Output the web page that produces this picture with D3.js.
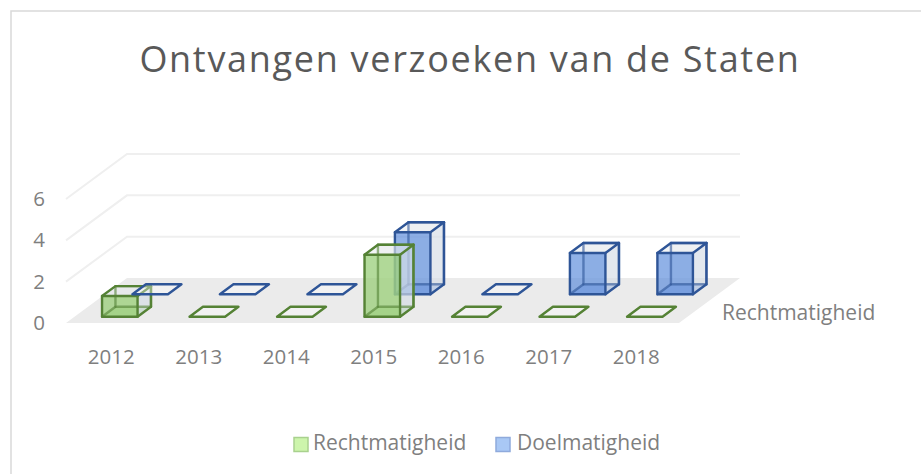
<!DOCTYPE html>
<html><head><meta charset="utf-8">
<script src="https://cdn.jsdelivr.net/npm/d3@7"></script>
<style>html,body{margin:0;background:#fff}svg{display:block}text{font-family:"Open Sans",sans-serif}</style>
</head><body><svg id="c" width="921" height="474"></svg>
<script>
const categories=["2012","2013","2014","2015","2016","2017","2018"];
const rechtmatigheid=[1,0,0,3,0,0,0];
const doelmatigheid=[0,0,0,3,0,2,2];
const yTicks=[0,2,4,6];
const seriesNames=["Rechtmatigheid","Doelmatigheid"];
const titleText="Ontvangen verzoeken van de Staten";
const depthLabel="Rechtmatigheid";

const svg=d3.select("#c");
svg.append("defs").append("filter").attr("id","soft").append("feGaussianBlur").attr("stdDeviation",0.35);
const ox=66,oy=323,dxD=61,dyD=45,W=613;
const x=d3.scaleBand().domain(categories).range([27.5,588]).paddingInner(0.594).paddingOuter(0);
const y=d3.scaleLinear().domain([0,6]).range([0,124]);
const P=(px,d,v)=>[ox+px+d*dxD, oy-d*dyD-y(v)];
const line=d3.line();

svg.append("path").attr("d","M11,474V11H921").attr("fill","none").attr("stroke","#d9d9d9").attr("stroke-width",1.5);

svg.append("text").text(titleText).attr("x",470).attr("y",72).attr("text-anchor","middle")
 .attr("font-size",36).attr("letter-spacing",1.7).attr("fill","#595959");

svg.append("path").attr("d",line([P(0,0,0),P(W,0,0),P(W,1,0),P(0,1,0)])+"Z").attr("fill","#ebebeb");
yTicks.filter(t=>t>0).forEach(t=>{
 svg.append("path").attr("d",line([P(0,0,t),P(0,1,t),P(W,1,t)])).attr("fill","none").attr("stroke","#efefef").attr("stroke-width",2);
});
svg.selectAll(".yl").data(yTicks).join("text").attr("x",39).attr("y",t=>P(0,0,t)[1]+7).attr("text-anchor","middle")
 .attr("font-size",20.5).attr("fill","#7f7f7f").text(d=>d);
svg.selectAll(".xl").data(categories).join("text").attr("x",c=>ox+x(c)+x.bandwidth()/2).attr("y",364).attr("text-anchor","middle")
 .attr("font-size",20.5).attr("fill","#7f7f7f").text(d=>d);
svg.append("text").text(depthLabel).attr("x",722).attr("y",320).attr("font-size",21).attr("fill","#7f7f7f");

const marks=svg.append("g").attr("filter","url(#soft)");
function bar(cat,v,d0,d1,stroke,front,lite,inner){
 const g=marks.append("g");
 const x0=x(cat),x1=x0+x.bandwidth();
 const face=(pts,fill)=>g.append("path").attr("d",line(pts)+"Z").attr("fill",fill);
 const edge=(pts,st)=>g.append("path").attr("d",line(pts)).attr("fill","none").attr("stroke",st).attr("stroke-width",2.4).attr("stroke-linejoin","round").attr("stroke-linecap","round");
 const A=P(x0,d0,0),B=P(x1,d0,0),C=P(x1,d1,0),D=P(x0,d1,0),E=P(x0,d0,v),F=P(x1,d0,v),G=P(x1,d1,v),H=P(x0,d1,v);
 if(v===0){face([A,B,C,D],"rgba(255,255,255,0.35)");edge([A,B,C,D,A],stroke);return;}
 face([D,C,G,H],"rgba(235,236,236,0.4)");
 face([A,B,C,D],lite);
 face([B,C,G,F],"rgba(205,214,228,0.45)");
 face([E,F,G,H],"rgba(225,230,235,0.4)");
 face([A,B,F,E],front);
 edge([H,D,C],inner);edge([D,A],inner);edge([C,G],inner);edge([H,G],inner);
 edge([A,B,F,E,A],stroke);edge([E,H,G,F],stroke);edge([B,C,G],stroke);
}
const dB=[0.638,0.86],dG=[0.14,0.36];
const blue=["#2f5597","rgba(90,140,220,0.68)","rgba(90,140,220,0.35)","rgba(47,85,151,0.6)"];
const green=["#548235","rgba(150,205,115,0.72)","rgba(150,205,115,0.35)","rgba(84,130,53,0.6)"];
categories.forEach((c,i)=>{if(doelmatigheid[i]>0)bar(c,doelmatigheid[i],dB[0],dB[1],...blue);});
categories.forEach((c,i)=>{if(rechtmatigheid[i]>0)bar(c,rechtmatigheid[i],dG[0],dG[1],...green);});
categories.forEach((c,i)=>{if(doelmatigheid[i]===0)bar(c,0,dB[0],dB[1],...blue);});
categories.forEach((c,i)=>{if(rechtmatigheid[i]===0)bar(c,0,dG[0],dG[1],...green);});

const lg=[[294,313,"#cdf5ac","#a9d18e"],[496,517,"#a9c8f5","#8faadc"]];
seriesNames.forEach((n,i)=>{
 svg.append("rect").attr("x",lg[i][0]).attr("y",437.5).attr("width",14).attr("height",14).attr("fill",lg[i][2]).attr("stroke",lg[i][3]).attr("stroke-width",1.5);
 svg.append("text").text(n).attr("x",lg[i][1]).attr("y",450).attr("font-size",21).attr("fill","#7f7f7f");
});
</script></body></html>
